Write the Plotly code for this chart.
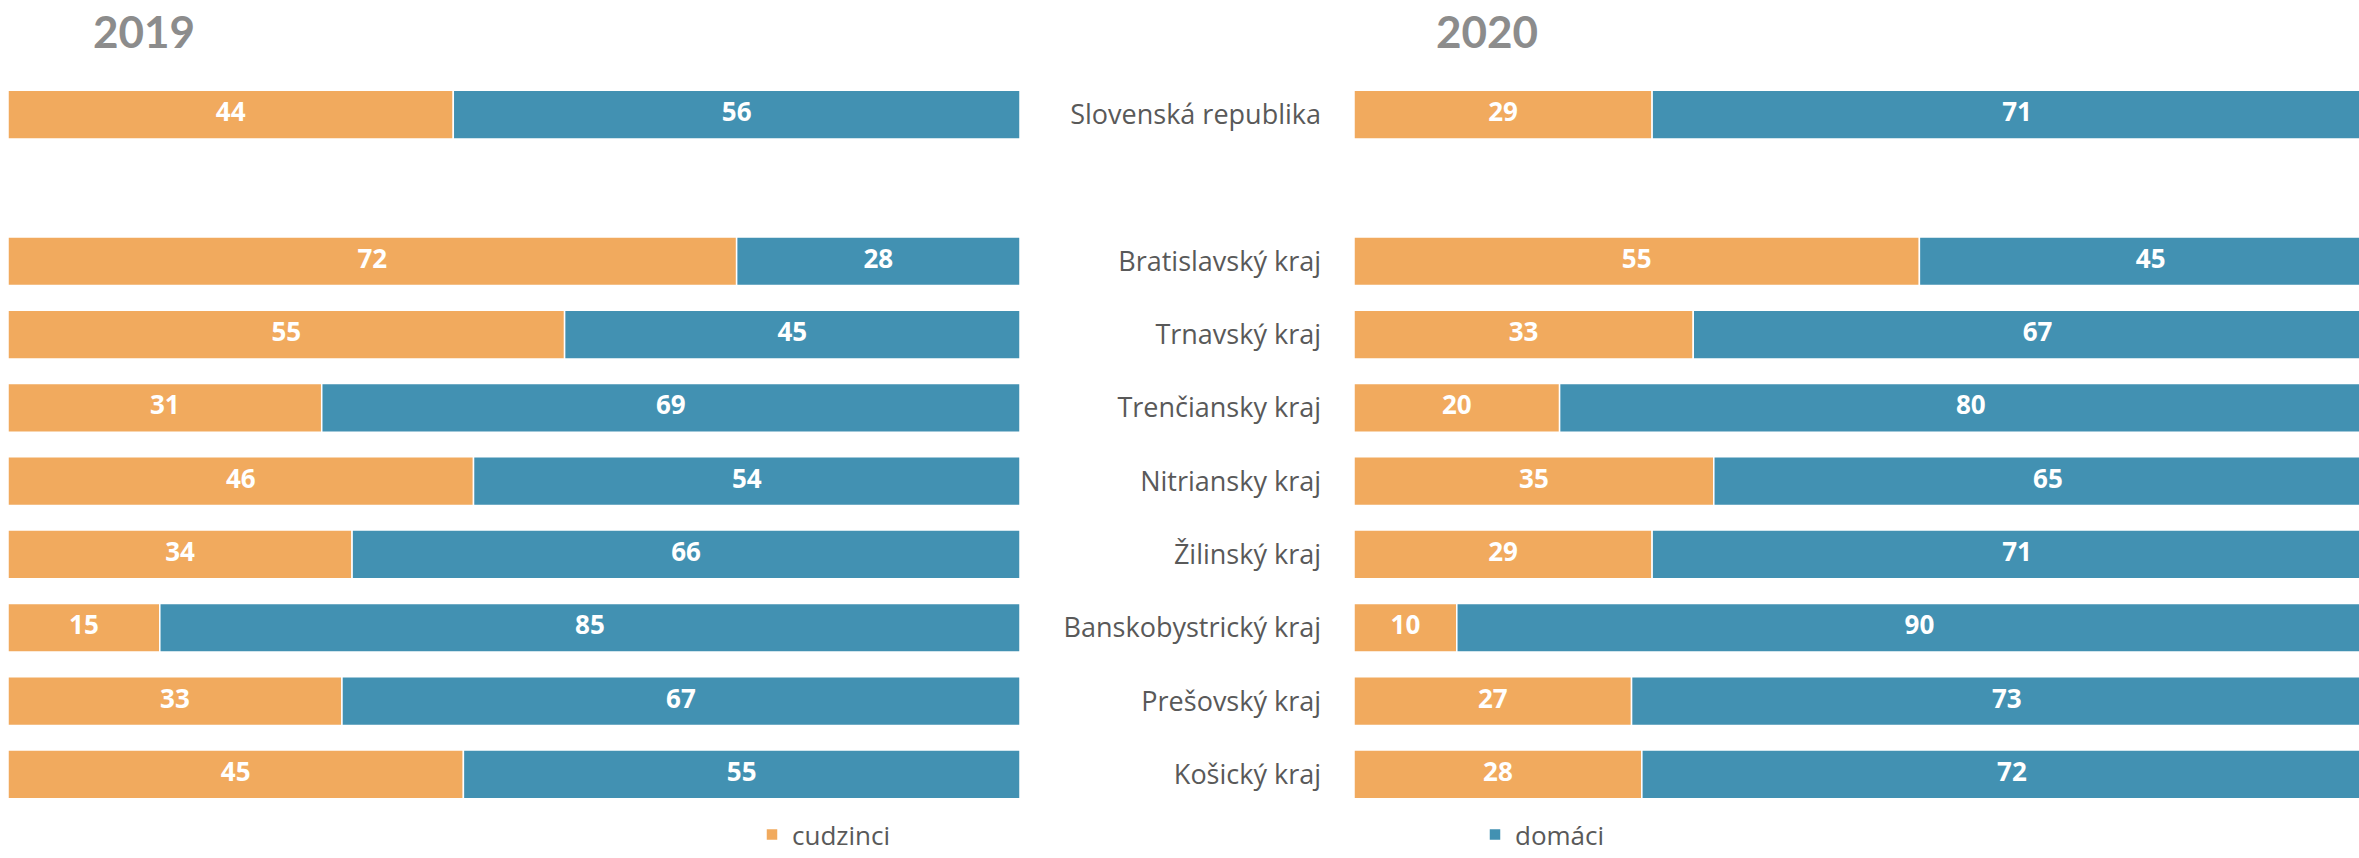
import plotly.graph_objects as go

# Regions (top to bottom) with a spacer row after the national total
regions = [
    "Slovenská republika",
    "Bratislavský kraj",
    "Trnavský kraj",
    "Trenčiansky kraj",
    "Nitriansky kraj",
    "Žilinský kraj",
    "Banskobystrický kraj",
    "Prešovský kraj",
    "Košický kraj",
]
spacer = " "
category_order = [regions[0], spacer] + regions[1:]

# Share of visitors (%)
cudzinci_2019 = [44, 72, 55, 31, 46, 34, 15, 33, 45]
domaci_2019 = [56, 28, 45, 69, 54, 66, 85, 67, 55]
cudzinci_2020 = [29, 55, 33, 20, 35, 29, 10, 27, 28]
domaci_2020 = [71, 45, 67, 80, 65, 71, 90, 73, 72]

years = ["2019", "2020"]
series_names = ["cudzinci", "domáci"]

ORANGE = "#F1AA5E"
BLUE = "#4291B2"
LABEL_GREY = "#595959"
TITLE_GREY = "#8C8C8C"
FONT = "Open Sans"
TITLE_FONT = "Lato"

W, H = 2359, 858
M_TOP, M_BOT = 78, 43

fig = go.Figure()

panels = [
    (cudzinci_2019, domaci_2019, "x", "y"),
    (cudzinci_2020, domaci_2020, "x2", "y2"),
]

for p, (cz, dm, xa, ya) in enumerate(panels):
    first = p == 0
    fig.add_trace(go.Bar(
        y=regions, x=cz, orientation="h", name=series_names[0],
        marker=dict(color=ORANGE, line=dict(color="white", width=1.5)),
        xaxis=xa, yaxis=ya, showlegend=first, legendgroup="c",
        hoverinfo="x+y",
    ))
    fig.add_trace(go.Bar(
        y=regions, x=dm, base=cz, orientation="h", name=series_names[1],
        marker=dict(color=BLUE, line=dict(color="white", width=1.5)),
        xaxis=xa, yaxis=ya, showlegend=first, legendgroup="d",
        hoverinfo="x+y",
    ))
    # value labels centred in each segment
    fig.add_trace(go.Scatter(
        y=regions + regions,
        x=[c / 2 for c in cz] + [c + d / 2 for c, d in zip(cz, dm)],
        text=[str(v) for v in cz] + [str(v) for v in dm],
        mode="text", textposition="middle center",
        textfont=dict(family=FONT, size=26, color="white", weight="bold"),
        xaxis=xa, yaxis=ya, showlegend=False, hoverinfo="skip",
        cliponaxis=False,
    ))

# Panel geometry in pixels
left_x0, left_x1 = 8, 1020
right_x0, right_full = 1354, 1028  # right panel runs past the page edge
right_visible = W - right_x0

fig.update_layout(
    width=W, height=H, autosize=False,
    margin=dict(l=0, r=0, t=M_TOP, b=M_BOT),
    barmode="overlay", bargap=0.336,
    plot_bgcolor="white", paper_bgcolor="white",
    font=dict(family=FONT, size=27, color=LABEL_GREY),
    xaxis=dict(domain=[left_x0 / W, left_x1 / W], range=[0, 100],
               visible=False, fixedrange=True),
    xaxis2=dict(domain=[right_x0 / W, 1.0],
                range=[0, 100 * right_visible / right_full],
                visible=False, fixedrange=True),
    yaxis=dict(type="category", categoryorder="array",
               categoryarray=category_order,
               range=[len(category_order) - 0.5, -0.5],
               showticklabels=False, showgrid=False, zeroline=False,
               showline=False, ticks="", fixedrange=True),
    yaxis2=dict(type="category", categoryorder="array",
                categoryarray=category_order,
                range=[len(category_order) - 0.5, -0.5],
                anchor="x2", showgrid=False, zeroline=False, showline=False,
                ticks="", ticklabelstandoff=32,
                tickfont=dict(family=FONT, size=27, color=LABEL_GREY),
                fixedrange=True),
    legend=dict(orientation="h", x=752 / W, xanchor="left",
                y=0, yanchor="bottom", yref="container",
                entrywidth=678, entrywidthmode="pixels",
                font=dict(family=FONT, size=26, color=LABEL_GREY),
                bgcolor="rgba(0,0,0,0)", itemclick=False,
                itemdoubleclick=False, traceorder="normal"),
    showlegend=True,
)

# Year headings above each panel
plot_h = H - M_TOP - M_BOT
for year, cx in zip(years, [144, 1487]):
    fig.add_annotation(
        text=f"<b>{year}</b>", x=cx / W, y=(H - M_BOT - 31) / plot_h,
        xref="paper", yref="paper", xanchor="center", yanchor="middle",
        showarrow=False,
        font=dict(family=TITLE_FONT, size=44, color=TITLE_GREY),
    )

fig.write_html("out.html")
